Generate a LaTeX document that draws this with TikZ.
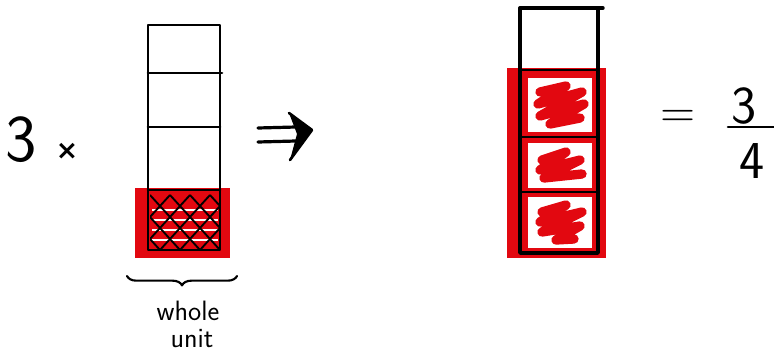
\documentclass[tikz,border=0pt]{standalone}
\usepackage{fontspec}
\newfontfamily\symfont{DejaVu Sans}
\usetikzlibrary{decorations.pathreplacing}
\definecolor{mred}{RGB}{226,8,16}
\tikzset{
  ink/.style={line width=2pt, line cap=round, line join=round, black},
  scribble/.style={draw=mred, line width=7pt, line cap=round, line join=round},
  hand/.style={font=\sffamily, inner sep=0pt},
}
\begin{document}
\begin{tikzpicture}[x=0.75pt,y=-0.75pt]
\useasboundingbox[fill=white] (0,0) rectangle (774,353);

% ---------- left: 3 x ----------
\node[hand, font=\sffamily\fontsize{50}{50}\selectfont] (three) at (21,140) {3};
\node[hand, font=\symfont\bfseries\fontsize{20}{20}\selectfont] (times) at (67,151) {×};

% ---------- left bar ----------
\fill[mred] (135,188) rectangle (230,258);
\begin{scope}
  \clip (150,193) rectangle (220,250);
  \foreach \yy in {210,220,230,240}
    \draw[white, line width=1.6pt] (152,\yy) -- (218,\yy);
  \foreach \k in {0,20,...,140}
    \draw[black, line width=1.4pt] (110+\k,195) -- (160+\k,250);
  \foreach \k in {0,20,...,140}
    \draw[black, line width=1.4pt] (100+\k,250) -- (150+\k,195);
\end{scope}
\coordinate (LTL) at (148,25);
\coordinate (LTR) at (220,25);
\coordinate (LBL) at (148,250);
\coordinate (LBR) at (220,250);
\draw[ink] (LTL) -- (LTR) -- (LBR) -- (LBL) -- cycle;
\draw[ink] (148,73) -- (222,73);
\draw[ink] (148,127) -- (220,127);
\draw[ink] (148,190) -- (220,190);

% brace
\draw[ink, line width=1.6pt, decorate,
      decoration={brace, amplitude=7pt}] (237,276) -- (127,276);
\node[hand, font=\sffamily\fontsize{21}{21}\selectfont] (whole) at (188,311) {whole};
\node[hand, font=\sffamily\fontsize{21}{21}\selectfont, anchor=base] (unit) at (192,347) {unit};

% ---------- arrow ----------
\coordinate (a1) at (258,128);
\coordinate (a2) at (258,142);
\draw[ink, line width=2.4pt] (a1) -- (296,127);
\draw[ink, line width=2.4pt] (a2) -- (296,141);
\coordinate (h1) at (289,113);
\coordinate (h2) at (312,130);
\coordinate (h3) at (290,160);
\fill[black] (h1) -- (h2) -- (h3) -- (297,134) -- cycle;
\draw[ink] (h1) -- (h2) -- (h3);

% ---------- right bar ----------
\fill[mred] (507,68) rectangle (606,258);
\fill[white] (528,78) rectangle (592,132);
\fill[white] (528,143) rectangle (592,188);
\fill[white] (528,197) rectangle (592,248);
\draw[scribble] (540,92) -- (566,86) -- (538,104) -- (582,92) -- (540,116) -- (584,104) -- (550,124) -- (580,118);
\draw[scribble] (542,160) -- (566,152) -- (540,170) -- (580,160) -- (544,178) -- (582,174);
\draw[scribble] (542,212) -- (566,205) -- (540,222) -- (582,212) -- (542,232) -- (580,226) -- (556,240) -- (574,239);
\coordinate (RTL) at (520,8);
\coordinate (RTR) at (598,8);
\coordinate (RBL) at (520,253);
\coordinate (RBR) at (598,253);
\draw[ink, line width=2.6pt] (RTL) -- (603,8);
\draw[ink, line width=2.6pt] (RTL) -- (RBL) -- (RBR) -- (RTR);
\draw[ink] (520,70) -- (598,70);
\draw[ink] (520,137) -- (598,137);
\draw[ink] (520,192) -- (598,192);

% ---------- = 3/4 ----------
\node[hand, font=\sffamily\fontsize{36}{36}\selectfont] (eq) at (678,119) {=};
\node[hand, font=\sffamily\fontsize{40}{40}\selectfont] (num) at (744,106) {3};
\draw[ink] (728,127) -- (774,127);
\node[hand, font=\sffamily\fontsize{40}{40}\selectfont] (den) at (752,161) {4};
\end{tikzpicture}
\end{document}
